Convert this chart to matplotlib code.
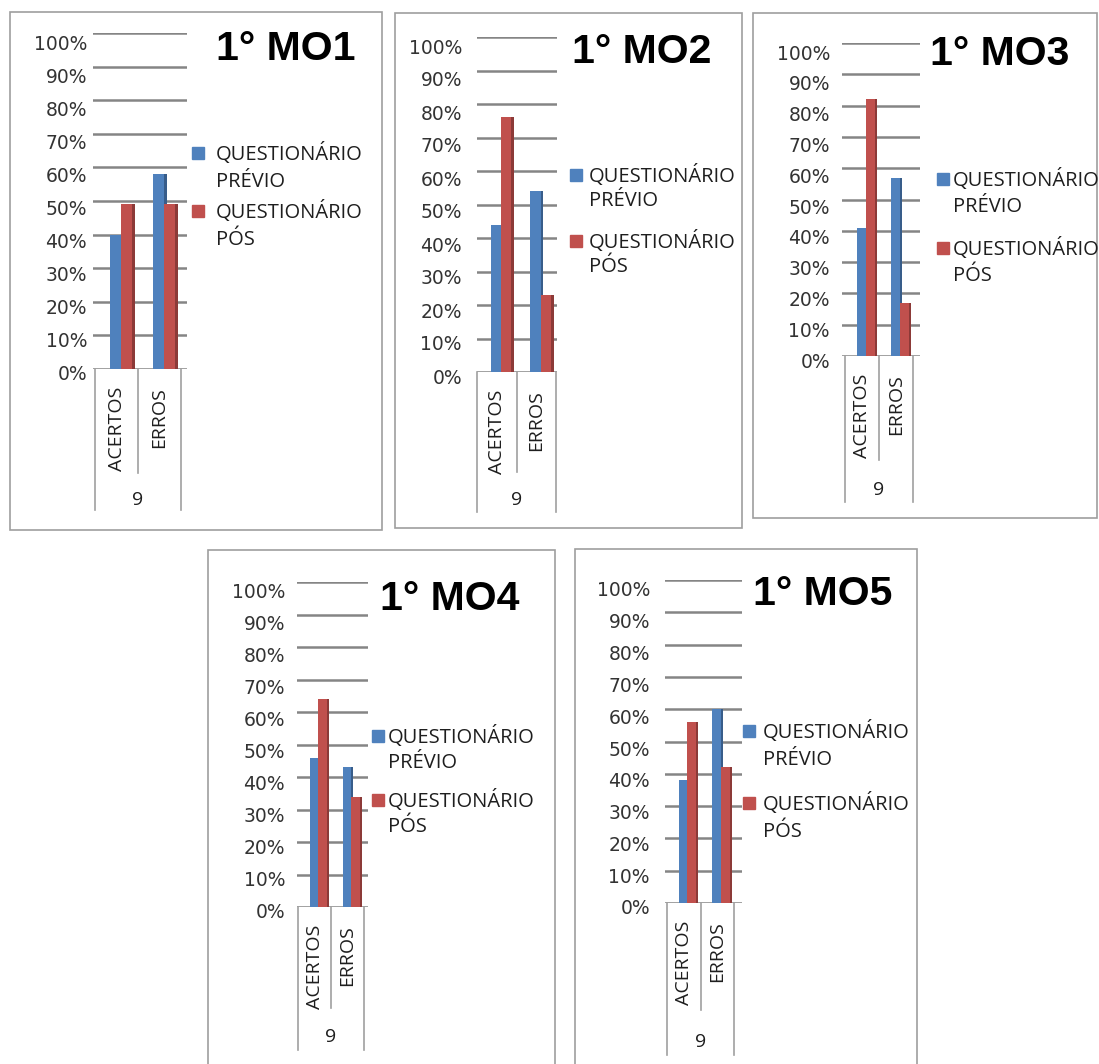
import matplotlib
matplotlib.use('Agg')
import numpy as np
import matplotlib.pyplot as plt
from matplotlib.patches import Rectangle
from matplotlib.transforms import offset_copy

W, H = 1099, 1064

## Data
categories = ['ACERTOS', 'ERROS']
series_labels = ['QUESTIONÁRIO\nPRÉVIO', 'QUESTIONÁRIO\nPÓS']
titles = ['1° MO1', '1° MO2', '1° MO3', '1° MO4', '1° MO5']
group_label = '9'
yticks = [0, .1, .2, .3, .4, .5, .6, .7, .8, .9, 1.0]
ytick_labels = ['0%', '10%', '20%', '30%', '40%', '50%', '60%', '70%', '80%', '90%', '100%']

mo1_previo = [0.40, 0.58]
mo1_pos = [0.49, 0.49]
mo2_previo = [0.44, 0.54]
mo2_pos = [0.76, 0.23]
mo3_previo = [0.41, 0.57]
mo3_pos = [0.82, 0.17]
mo4_previo = [0.46, 0.43]
mo4_pos = [0.64, 0.34]
mo5_previo = [0.38, 0.60]
mo5_pos = [0.56, 0.42]

previo = [mo1_previo, mo2_previo, mo3_previo, mo4_previo, mo5_previo]
pos = [mo1_pos, mo2_pos, mo3_pos, mo4_pos, mo5_pos]

## Panel layout in pixels (figure coords, origin top-left)
layout = [
    dict(box=(10, 12, 382, 530), grid=(93, 187, 33, 369), bnd=(95, 181), gap=6,
         title=(216, 60), sq=192, tx=216, base=(160, 218), ls=27, outer=510, mid=473, nine=500),
    dict(box=(395, 13, 742, 528), grid=(477, 557, 37, 372), bnd=(477, 556), gap=15,
         title=(572, 63), sq=570, tx=589, base=(182, 248), ls=24, outer=512, mid=472, nine=500),
    dict(box=(753, 13, 1097, 518), grid=(842, 920, 43, 356), bnd=(845, 913), gap=12,
         title=(930, 65), sq=937, tx=953, base=(186, 255), ls=26, outer=502, mid=460, nine=490),
    dict(box=(208, 550, 555, 1080), grid=(297, 368, 582, 907), bnd=(298, 364), gap=12,
         title=(380, 610), sq=372, tx=388, base=(743, 807), ls=25, outer=1050, mid=1008, nine=1037),
    dict(box=(575, 549, 917, 1080), grid=(665, 742, 580, 903), bnd=(667, 734), gap=15,
         title=(753, 605), sq=743, tx=763, base=(738, 810), ls=27, outer=1055, mid=1010, nine=1042),
]

blue, blue_dark = '#4F81BD', '#385D8A'
red, red_dark = '#C0504D', '#8C3A38'
grey = '#858585'


def fx(px):
    return px / W


def fy(py):
    return 1 - py / H


def panel(fig, title, prev, post, lay):
    """ Draw one Excel-like 3D column chart panel. """
    x0, y0, x1, y1 = lay['box']
    fig.add_artist(Rectangle((fx(x0), fy(y1)), (x1 - x0) / W, (y1 - y0) / H,
                             transform=fig.transFigure, fill=False, ec='#9e9e9e', lw=1.2))
    gl, gr, yt, yb = lay['grid']
    h = yb - yt
    ax = fig.add_axes([fx(gl), fy(yb), (gr - gl) / W, h / H])
    bl, br = lay['bnd']
    s = (br - bl) / 2
    ax.set_xlim(-0.5 - (bl - gl) / s, 1.5 + (gr - br) / s)
    ax.set_ylim(0, 1)
    for sp in ax.spines.values():
        sp.set_visible(False)
    ax.set_yticks(yticks)
    ax.set_yticklabels([])
    ax.set_xticks([])
    ax.tick_params(length=0)
    ax.grid(axis='y', color=grey, lw=1.8)
    ax.set_axisbelow(True)

    ## bars with a darker side face for the 3D look
    x = np.arange(len(categories))
    fw, sw, off = 0.26, 0.07, -0.15
    ax.bar(x + off + fw, prev, width=sw, align='edge', color=blue_dark, zorder=2)
    ax.bar(x + off, prev, width=fw, align='edge', color=blue, zorder=3)
    ax.bar(x + off + 2 * fw, post, width=sw, align='edge', color=red_dark, zorder=4)
    ax.bar(x + off + fw, post, width=fw, align='edge', color=red, zorder=5)

    ## y labels (slightly below the back-wall gridlines)
    for v, lab in zip(yticks, ytick_labels):
        tr = offset_copy(ax.get_yaxis_transform(), fig=fig, x=-lay['gap'], y=-(6 + 5 * v), units='dots')
        ax.text(0, v, lab, transform=tr, ha='right', va='center', fontsize=13.5,
                color='#333333', family='DejaVu Sans')

    ## category axis: separators, labels and group label
    trx = ax.get_xaxis_transform()
    for b, bot in zip([-0.5, 0.5, 1.5], [lay['outer'], lay['mid'], lay['outer']]):
        ax.plot([b, b], [0, -(bot - yb) / h], transform=trx, clip_on=False, color='#a0a0a0', lw=1.2)
    for j, cat in enumerate(categories):
        ax.text(j, 0, cat, transform=offset_copy(trx, fig=fig, y=-18, units='dots'),
                rotation=90, ha='center', va='top', fontsize=14, family='Open Sans', color='#1e1e1e')
    ax.text(0.5, -(lay['nine'] - yb) / h, group_label, transform=trx, ha='center', va='center',
            fontsize=14, family='Open Sans', color='#1e1e1e')

    ## title
    tx, tb = lay['title']
    fig.text(fx(tx), fy(tb), title, fontsize=29.5, fontweight='bold', family='Liberation Sans',
             va='baseline', ha='left')

    ## legend drawn by hand so the square sits on the first line
    for k, (lab, col) in enumerate(zip(series_labels, [blue, red])):
        base = lay['base'][k]
        fig.add_artist(Rectangle((fx(lay['sq']), fy(base - 1)), 12 / W, 12 / H,
                                 transform=fig.transFigure, color=col))
        for i, line in enumerate(lab.split('\n')):
            fig.text(fx(lay['tx']), fy(base + i * lay['ls']), line, fontsize=14.5,
                     family='Open Sans', va='baseline', ha='left', color='#1e1e1e')


fig = plt.figure(figsize=(W / 100, H / 100), dpi=100, facecolor='white')
for title, prev, post, lay in zip(titles, previo, pos, layout):
    panel(fig, title, prev, post, lay)
fig.savefig('out.png', dpi=100, facecolor='white')
